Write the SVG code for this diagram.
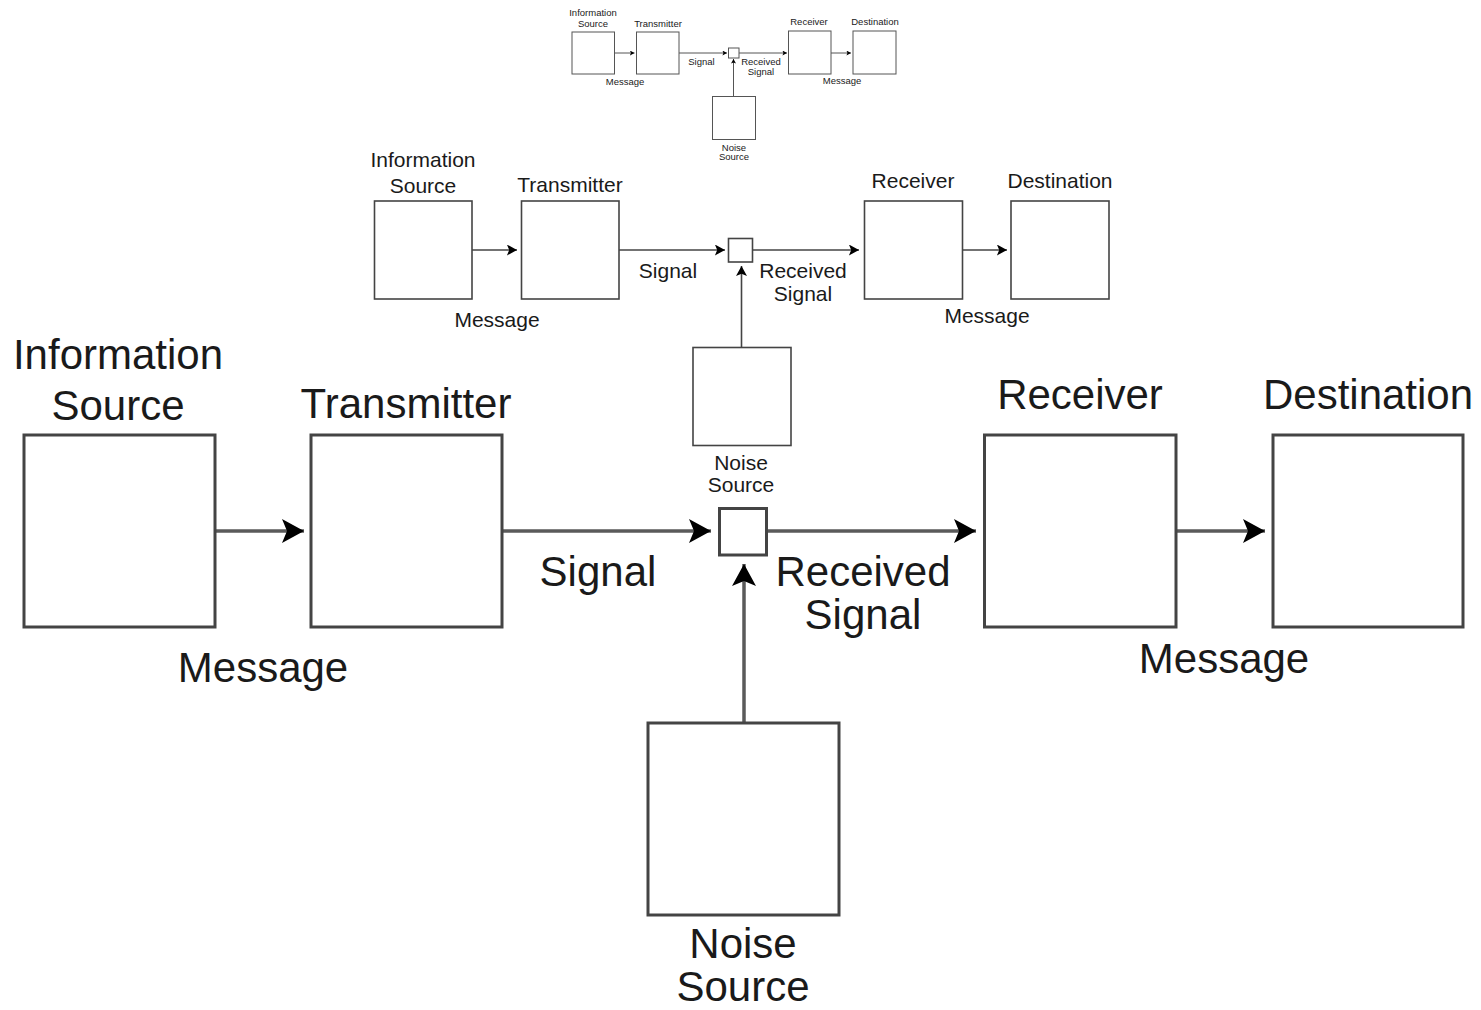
<svg xmlns="http://www.w3.org/2000/svg" width="1481" height="1010" viewBox="0 0 1481 1010">
<style>
  text { font-family: "Liberation Sans", Arial, sans-serif; fill: #1a1a1a; text-anchor: middle; }
  .t-s { font-size: 9.5px; }
  .t-m { font-size: 21px; }
  .t-l { font-size: 42px; }
  .b-s { fill: #fff; stroke: #555; stroke-width: 1; }
  .b-m { fill: #fff; stroke: #444; stroke-width: 1.6; }
  .b-l { fill: #fff; stroke: #444; stroke-width: 3; }
  .c-s { fill: none; stroke: #555; stroke-width: 1; }
  .c-m { fill: none; stroke: #444; stroke-width: 1.6; }
  .c-l { fill: none; stroke: #5a5a5a; stroke-width: 3.5; }
</style>
<defs>
  <marker id="ah-l" viewBox="0 0 22 24" refX="22" refY="12" markerWidth="22" markerHeight="24" markerUnits="userSpaceOnUse" orient="auto">
    <path d="M0,0 L22,12 L0,24 L5,12 Z" fill="#000"/>
  </marker>
  <marker id="ah-m" viewBox="0 0 22 24" refX="22" refY="12" markerWidth="11" markerHeight="11" markerUnits="userSpaceOnUse" orient="auto">
    <path d="M0,0 L22,12 L0,24 L5,12 Z" fill="#000"/>
  </marker>
  <marker id="ah-s" viewBox="0 0 22 24" refX="22" refY="12" markerWidth="5" markerHeight="5" markerUnits="userSpaceOnUse" orient="auto">
    <path d="M0,0 L22,12 L0,24 L5,12 Z" fill="#000"/>
  </marker>
</defs>
<rect x="0" y="0" width="1481" height="1010" fill="#fff"/>

<!-- connectors -->
<g id="connectors">
  <path class="c-s" d="M614.5,53 L634.5,53" marker-end="url(#ah-s)"/>
  <path class="c-s" d="M679,53 L727,53" marker-end="url(#ah-s)"/>
  <path class="c-s" d="M739,53 L787,53" marker-end="url(#ah-s)"/>
  <path class="c-s" d="M831,53 L851,53" marker-end="url(#ah-s)"/>
  <path class="c-s" d="M733.5,96 L733.5,59" marker-end="url(#ah-s)"/>

  <path class="c-m" d="M472,250 L517,250" marker-end="url(#ah-m)"/>
  <path class="c-m" d="M619,250 L725,250" marker-end="url(#ah-m)"/>
  <path class="c-m" d="M753,250 L859,250" marker-end="url(#ah-m)"/>
  <path class="c-m" d="M963,250 L1007,250" marker-end="url(#ah-m)"/>
  <path class="c-m" d="M741.5,347 L741.5,266" marker-end="url(#ah-m)"/>

  <path class="c-l" d="M216,531 L304,531" marker-end="url(#ah-l)"/>
  <path class="c-l" d="M503,531 L711,531" marker-end="url(#ah-l)"/>
  <path class="c-l" d="M768,531 L976,531" marker-end="url(#ah-l)"/>
  <path class="c-l" d="M1177,531 L1265,531" marker-end="url(#ah-l)"/>
  <path class="c-l" d="M744,722 L744,564" marker-end="url(#ah-l)"/>
</g>

<!-- small diagram -->
<g id="s-info-source"><rect class="b-s" x="572" y="32" width="42.5" height="42"/><text class="t-s" x="593" y="16">Information</text><text class="t-s" x="593" y="27">Source</text></g>
<g id="s-transmitter"><rect class="b-s" x="636.5" y="32" width="42.5" height="42"/><text class="t-s" x="658" y="26.5">Transmitter</text></g>
<g id="s-junction"><rect class="b-s" x="728.5" y="48" width="10.5" height="10"/></g>
<g id="s-receiver"><rect class="b-s" x="788.5" y="31" width="42.5" height="43"/><text class="t-s" x="809" y="25">Receiver</text></g>
<g id="s-destination"><rect class="b-s" x="853" y="31" width="43" height="43"/><text class="t-s" x="875" y="25">Destination</text></g>
<g id="s-noise-source"><rect class="b-s" x="712.5" y="96.5" width="43" height="43"/><text class="t-s" x="734" y="150.5">Noise</text><text class="t-s" x="734" y="160">Source</text></g>
<g id="s-labels">
  <text class="t-s" x="701.5" y="64.5">Signal</text>
  <text class="t-s" x="761" y="64.5">Received</text>
  <text class="t-s" x="761" y="74.5">Signal</text>
  <text class="t-s" x="625" y="85">Message</text>
  <text class="t-s" x="842" y="83.5">Message</text>
</g>

<!-- middle diagram -->
<g id="m-info-source"><rect class="b-m" x="374.5" y="201" width="97.5" height="98"/><text class="t-m" x="423" y="167">Information</text><text class="t-m" x="423" y="193">Source</text></g>
<g id="m-transmitter"><rect class="b-m" x="521.5" y="201" width="97.5" height="98"/><text class="t-m" x="570" y="192">Transmitter</text></g>
<g id="m-junction"><rect class="b-m" x="728.5" y="238.5" width="24" height="23.5"/></g>
<g id="m-receiver"><rect class="b-m" x="864.5" y="201" width="98" height="98"/><text class="t-m" x="913" y="188">Receiver</text></g>
<g id="m-destination"><rect class="b-m" x="1011" y="201" width="98" height="98"/><text class="t-m" x="1060" y="188">Destination</text></g>
<g id="m-noise-source"><rect class="b-m" x="693" y="347.5" width="98" height="98"/><text class="t-m" x="741" y="470">Noise</text><text class="t-m" x="741" y="492">Source</text></g>
<g id="m-labels">
  <text class="t-m" x="668" y="278">Signal</text>
  <text class="t-m" x="803" y="278">Received</text>
  <text class="t-m" x="803" y="300.5">Signal</text>
  <text class="t-m" x="497" y="326.5">Message</text>
  <text class="t-m" x="987" y="322.5">Message</text>
</g>

<!-- large diagram -->
<g id="l-info-source"><rect class="b-l" x="24" y="435" width="191" height="192"/><text class="t-l" x="118" y="369">Information</text><text class="t-l" x="118" y="419.5">Source</text></g>
<g id="l-transmitter"><rect class="b-l" x="311" y="435" width="191" height="192"/><text class="t-l" x="406" y="418">Transmitter</text></g>
<g id="l-junction"><rect class="b-l" x="719.5" y="508.5" width="47" height="46.5"/></g>
<g id="l-receiver"><rect class="b-l" x="984.5" y="435" width="191.5" height="192"/><text class="t-l" x="1080" y="409">Receiver</text></g>
<g id="l-destination"><rect class="b-l" x="1273" y="435" width="190" height="192"/><text class="t-l" x="1368" y="409">Destination</text></g>
<g id="l-noise-source"><rect class="b-l" x="648" y="723" width="191" height="192"/><text class="t-l" x="743" y="958">Noise</text><text class="t-l" x="743" y="1001">Source</text></g>
<g id="l-labels">
  <text class="t-l" x="598" y="586">Signal</text>
  <text class="t-l" x="863" y="586">Received</text>
  <text class="t-l" x="863" y="629">Signal</text>
  <text class="t-l" x="263" y="681.5">Message</text>
  <text class="t-l" x="1224" y="673">Message</text>
</g>
</svg>
